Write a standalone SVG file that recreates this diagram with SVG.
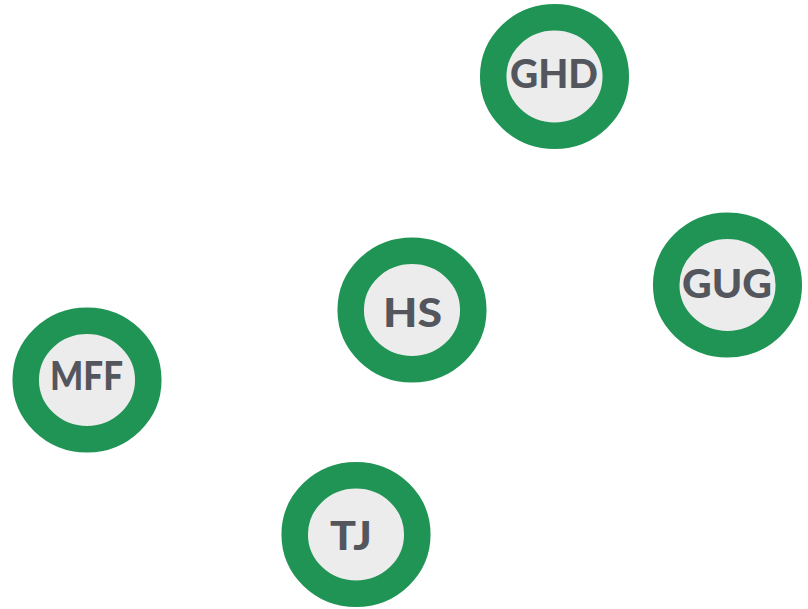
<svg xmlns="http://www.w3.org/2000/svg" width="808" height="609" viewBox="0 0 808 609">
<style>
.ring{fill:#ececec;stroke:#1f9455;stroke-width:26.5}
.lbl{font-family:Lato,"Open Sans",sans-serif;font-weight:900;font-size:39px;fill:#54565d;text-anchor:middle}
</style>
<rect width="808" height="609" fill="#ffffff"/>
<g id="connectors"></g>
<g id="node-GHD"><ellipse class="ring" cx="554.5" cy="76.5" rx="61.3" ry="59.2"/><text class="lbl" x="554" y="88" textLength="88" lengthAdjust="spacingAndGlyphs">GHD</text></g>
<g id="node-GUG"><ellipse class="ring" cx="727.5" cy="285" rx="61.3" ry="59.2"/><text class="lbl" x="727" y="298" textLength="90" lengthAdjust="spacingAndGlyphs">GUG</text></g>
<g id="node-HS"><ellipse class="ring" cx="412" cy="310" rx="61.3" ry="59.2"/><text class="lbl" x="412.5" y="327" textLength="59" lengthAdjust="spacingAndGlyphs">HS</text></g>
<g id="node-MFF"><ellipse class="ring" cx="87" cy="380" rx="61.3" ry="59.2"/><text class="lbl" x="86.5" y="390" textLength="73" lengthAdjust="spacingAndGlyphs">MFF</text></g>
<g id="node-TJ"><ellipse class="ring" cx="356" cy="534.5" rx="61.3" ry="59.2"/><text class="lbl" x="351" y="550" textLength="42" lengthAdjust="spacingAndGlyphs">TJ</text></g>
</svg>
